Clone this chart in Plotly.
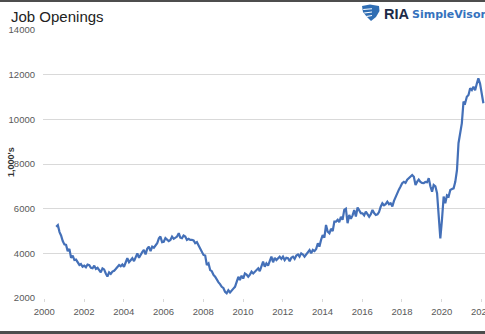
import pandas as pd
import plotly.graph_objects as go

# JOLTS job openings, thousands, monthly from Dec 2000 through Jun 2022
openings_2000 = [5190]
openings_2001 = [5260, 4950, 4800, 4550, 4400, 4380, 4100, 4200, 3800, 3900, 3700, 3720]
openings_2002 = [3600, 3480, 3520, 3400, 3450, 3380, 3500, 3470, 3350, 3330, 3450, 3300]
openings_2003 = [3350, 3250, 3150, 3330, 3280, 3100, 2960, 3150, 3080, 3180, 3220, 3300]
openings_2004 = [3380, 3480, 3420, 3500, 3400, 3560, 3780, 3600, 3700, 3780, 3650, 3850]
openings_2005 = [4000, 3800, 3950, 4050, 4150, 3950, 4200, 4300, 4100, 4300, 4250, 4370]
openings_2006 = [4450, 4670, 4750, 4500, 4520, 4680, 4600, 4550, 4600, 4750, 4650, 4700]
openings_2007 = [4750, 4900, 4700, 4680, 4800, 4750, 4600, 4650, 4600, 4600, 4580, 4450]
openings_2008 = [4500, 4350, 4230, 4100, 3930, 3900, 3480, 3550, 3250, 3200, 3030, 2950]
openings_2009 = [2800, 2700, 2620, 2500, 2450, 2280, 2210, 2350, 2250, 2360, 2420, 2500]
openings_2010 = [2700, 2950, 2800, 3000, 2870, 3100, 3050, 2950, 3050, 3180, 3100, 3180]
openings_2011 = [3250, 3330, 3200, 3450, 3630, 3400, 3550, 3450, 3700, 3850, 3600, 3800]
openings_2012 = [3700, 3780, 3850, 3750, 3850, 3700, 3800, 3780, 3650, 3800, 3850, 3750]
openings_2013 = [3900, 3950, 3850, 4000, 3950, 3850, 3950, 4050, 4150, 4000, 4150, 4100]
openings_2014 = [4200, 4450, 4300, 4600, 4820, 4700, 5270, 4970, 4900, 5100, 5000, 5420]
openings_2015 = [5420, 5500, 5400, 5640, 5500, 5950, 6000, 5350, 5720, 5550, 5700, 5940]
openings_2016 = [5650, 6050, 5900, 5800, 5790, 5700, 5870, 5750, 5640, 5750, 5940, 5800]
openings_2017 = [5720, 5750, 5850, 6090, 6240, 6150, 6200, 6310, 6200, 6240, 6100, 6350]
openings_2018 = [6540, 6650, 6850, 6990, 7140, 7200, 7150, 7300, 7360, 7450, 7510, 7430]
openings_2019 = [7060, 7210, 7300, 7200, 7150, 7140, 7200, 7180, 7360, 7000, 6760, 7060]
openings_2020 = [7000, 6690, 5800, 4670, 5500, 6540, 6240, 6600, 6550, 6840, 6880, 6910]
openings_2021 = [7200, 7730, 8930, 9300, 9820, 10790, 10720, 11010, 11090, 11390, 11310, 11460]
openings_2022 = [11300, 11600, 11840, 11600, 11240, 10720]

openings = (openings_2000 + openings_2001 + openings_2002 + openings_2003 + openings_2004
            + openings_2005 + openings_2006 + openings_2007 + openings_2008 + openings_2009
            + openings_2010 + openings_2011 + openings_2012 + openings_2013 + openings_2014
            + openings_2015 + openings_2016 + openings_2017 + openings_2018 + openings_2019
            + openings_2020 + openings_2021 + openings_2022)
months = pd.date_range("2000-12-01", periods=len(openings), freq="MS")

x_tick_years = list(range(2000, 2024, 2))
y_ticks = [2000, 4000, 6000, 8000, 10000, 12000, 14000]

W, H = 485, 334
ML, MR, MT, MB = 43, 0, 30, 36
PW, PH = W - ML - MR, H - MT - MB


def px_x(px):
    return (px - ML) / PW


def px_y(py):
    return (H - MB - py) / PH


fig = go.Figure()
fig.add_trace(go.Scatter(
    x=months, y=openings, mode="lines",
    line=dict(color="#4470b8", width=2.2),
    hoverinfo="skip", showlegend=False,
))

fig.update_layout(
    width=W, height=H,
    margin=dict(l=ML, r=MR, t=MT, b=MB, autoexpand=False),
    paper_bgcolor="white", plot_bgcolor="white",
    font=dict(family="Liberation Sans, Arial, sans-serif", color="#595959"),
)

fig.update_xaxes(
    type="date",
    range=["2000-04-03", "2022-07-01"],
    tickvals=[f"{y}-04-27" for y in x_tick_years],
    ticktext=[str(y) for y in x_tick_years],
    tickfont=dict(size=9.5, color="#595959"),
    ticks="outside", ticklen=3, tickcolor="#d9d9d9",
    ticklabelstandoff=2,
    ticklabeloverflow="allow",
    automargin=False,
    showgrid=False, showline=False, zeroline=False,
)
fig.update_yaxes(
    range=[2000, 14000],
    tickvals=y_ticks,
    ticktext=[str(v) for v in y_ticks],
    tickfont=dict(size=9.5, color="#595959"),
    showgrid=True, gridcolor="#d9d9d9", gridwidth=1,
    ticklabelstandoff=7,
    automargin=False,
    showline=False, zeroline=False,
)

annotations = [
    dict(text="Job Openings", x=px_x(9), y=px_y(16.5), xref="paper", yref="paper",
         xanchor="left", yanchor="middle", showarrow=False,
         font=dict(size=15, color="#222222", family="Liberation Sans, Arial, sans-serif")),
    dict(text="<b>1,000's</b>", x=px_x(11), y=px_y(162), xref="paper", yref="paper",
         xanchor="center", yanchor="middle", textangle=-90, showarrow=False,
         font=dict(size=9, color="#333333")),
    dict(text="<b>RIA</b>", x=px_x(382), y=px_y(13.5), xref="paper", yref="paper",
         xanchor="left", yanchor="middle", showarrow=False,
         font=dict(size=14.5, color="#1c2b48", family="Liberation Sans, Arial, sans-serif")),
    dict(text="<b>SimpleVisor</b>", x=px_x(410), y=px_y(14.5), xref="paper", yref="paper",
         xanchor="left", yanchor="middle", showarrow=False,
         font=dict(size=11, color="#3572bd", family="DejaVu Sans, sans-serif")),
]


def path_from(points):
    parts = []
    for i, (px, py) in enumerate(points):
        parts.append(("M" if i == 0 else "L") + f"{px_x(px):.5f},{px_y(py):.5f}")
    return " ".join(parts) + " Z"


shield = [(362, 6), (370, 4.5), (379, 6), (379.5, 11), (376, 17), (371, 21),
          (367, 17), (363, 12)]
stripes = [
    [(363, 9), (372, 8.2), (372, 9.2), (363.4, 10)],
    [(364, 12.5), (372, 11.5), (372, 12.5), (364.6, 13.5)],
    [(366, 16), (372, 15), (372, 16), (366.8, 17)],
]

shapes = [
    # frame lines above and below the chart
    dict(type="line", xref="paper", yref="paper", x0=px_x(0), x1=px_x(W),
         y0=px_y(1), y1=px_y(1), line=dict(color="#4d4d4d", width=2)),
    dict(type="line", xref="paper", yref="paper", x0=px_x(0), x1=px_x(W),
         y0=px_y(332.5), y1=px_y(332.5), line=dict(color="#4d4d4d", width=3)),
    dict(type="path", xref="paper", yref="paper", path=path_from(shield),
         fillcolor="#2f6db3", line=dict(width=0)),
]
for s in stripes:
    shapes.append(dict(type="path", xref="paper", yref="paper", path=path_from(s),
                       fillcolor="white", line=dict(width=0)))

fig.update_layout(annotations=annotations, shapes=shapes)

fig.write_html("out.html")
